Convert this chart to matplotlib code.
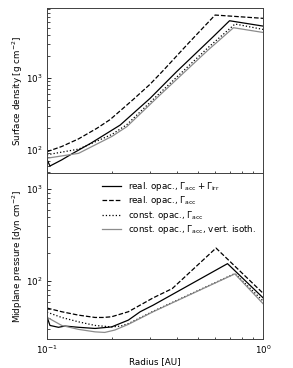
import numpy as np
import matplotlib
matplotlib.use("Agg")
import matplotlib.pyplot as plt
from matplotlib.ticker import NullFormatter

# ---- data: top panel (surface density) ----
r_sd_irr = [0.1, 0.1032, 0.117, 0.13, 0.16, 0.218, 0.3, 0.398, 0.588, 0.70, 1.0]
sd_irr = [74, 60, 73, 88, 125, 222, 522, 1225, 3750, 6250, 5270]

r_sd_acc = [0.1, 0.117, 0.14, 0.17, 0.196, 0.25, 0.3, 0.345, 0.45, 0.6, 1.0]
sd_acc = [95, 112, 143, 200, 265, 500, 820, 1270, 3010, 7500, 6750]

r_sd_const = [0.1, 0.14, 0.2, 0.234, 0.333, 0.557, 0.742, 1.0]
sd_const = [86, 103, 165, 225, 620, 2650, 5630, 4740]

r_sd_iso = [0.1, 0.14, 0.2, 0.234, 0.333, 0.557, 0.73, 1.0]
sd_iso = [77, 90, 155, 211, 580, 2450, 5000, 4300]

# ---- data: bottom panel (midplane pressure) ----
r_p_irr = [0.1, 0.1032, 0.113, 0.121, 0.14, 0.167, 0.199, 0.238, 0.27, 0.31, 0.685, 1.0]
p_irr = [41, 33, 31.5, 32.5, 31.5, 30.6, 31.8, 37.7, 46.5, 54.8, 155, 66]

r_p_acc = [0.1, 0.117, 0.14, 0.167, 0.182, 0.199, 0.238, 0.31, 0.38, 0.606, 1.0]
p_acc = [51, 46.5, 42.7, 40.3, 40.3, 41, 46.5, 65.8, 83, 229, 74]

r_p_const = [0.1, 0.117, 0.14, 0.167, 0.199, 0.22, 0.238, 0.31, 0.741, 1.0]
p_const = [46, 40.3, 36.1, 33, 31.8, 32.5, 34.5, 47, 121, 61]

r_p_iso = [0.1, 0.117, 0.14, 0.167, 0.185, 0.206, 0.238, 0.31, 0.741, 1.0]
p_iso = [40.5, 33, 29.9, 28.1, 27.7, 29.4, 33.9, 46.5, 120, 57]

labels = [r"real. opac., $\Gamma_{\rm acc}+\Gamma_{\rm irr}$",
          r"real. opac., $\Gamma_{\rm acc}$",
          r"const. opac., $\Gamma_{\rm acc}$",
          r"const. opac., $\Gamma_{\rm acc}$, vert. isoth."]

fs = 6.3
plt.rcParams['font.size'] = fs
fig = plt.figure(figsize=(2.93, 3.68), dpi=100)
ax1 = fig.add_axes([0.1604, 0.5299, 0.7372, 0.4484])
ax2 = fig.add_axes([0.1604, 0.0788, 0.7372, 0.4511], sharex=ax1)

styles = [dict(color='k', ls='-', lw=0.9),
          dict(color='k', ls='--', lw=0.9),
          dict(color='k', ls=':', lw=0.9),
          dict(color='0.55', ls='-', lw=0.9)]

for (r, v), st in zip([(r_sd_irr, sd_irr), (r_sd_acc, sd_acc),
                       (r_sd_const, sd_const), (r_sd_iso, sd_iso)], styles):
    ax1.plot(r, v, **st)
for (r, v), st, lab in zip([(r_p_irr, p_irr), (r_p_acc, p_acc),
                            (r_p_const, p_const), (r_p_iso, p_iso)], styles, labels):
    ax2.plot(r, v, label=lab, **st)

for ax in (ax1, ax2):
    ax.set_xscale('log')
    ax.set_yscale('log')
    ax.tick_params(which='both', direction='in', labelsize=fs, pad=3)
    ax.tick_params(which='major', length=3, width=0.6)
    ax.tick_params(which='minor', length=1.8, width=0.5)
    ax.xaxis.set_minor_formatter(NullFormatter())
    ax.yaxis.set_minor_formatter(NullFormatter())
    for s in ax.spines.values():
        s.set_linewidth(0.7)
        s.set_color('0.25')
ax1.set_xlim(0.1, 1.0)
ax1.set_ylim(48, 9400)
ax2.set_ylim(23.5, 1500)
ax1.tick_params(labelbottom=False)
ax1.set_ylabel("Surface density [g cm$^{-2}$]")
ax2.set_ylabel("Midplane pressure [dyn cm$^{-2}$]")
ax2.set_xlabel("Radius [AU]", labelpad=1)
ax1.yaxis.set_label_coords(-0.1, 0.5)
ax2.yaxis.set_label_coords(-0.1, 0.5)
ax2.legend(loc='upper right', frameon=False, fontsize=fs, handlelength=2.2,
           handletextpad=0.8, borderaxespad=0.4, labelspacing=0.15)

fig.savefig("out.png", dpi=100)
